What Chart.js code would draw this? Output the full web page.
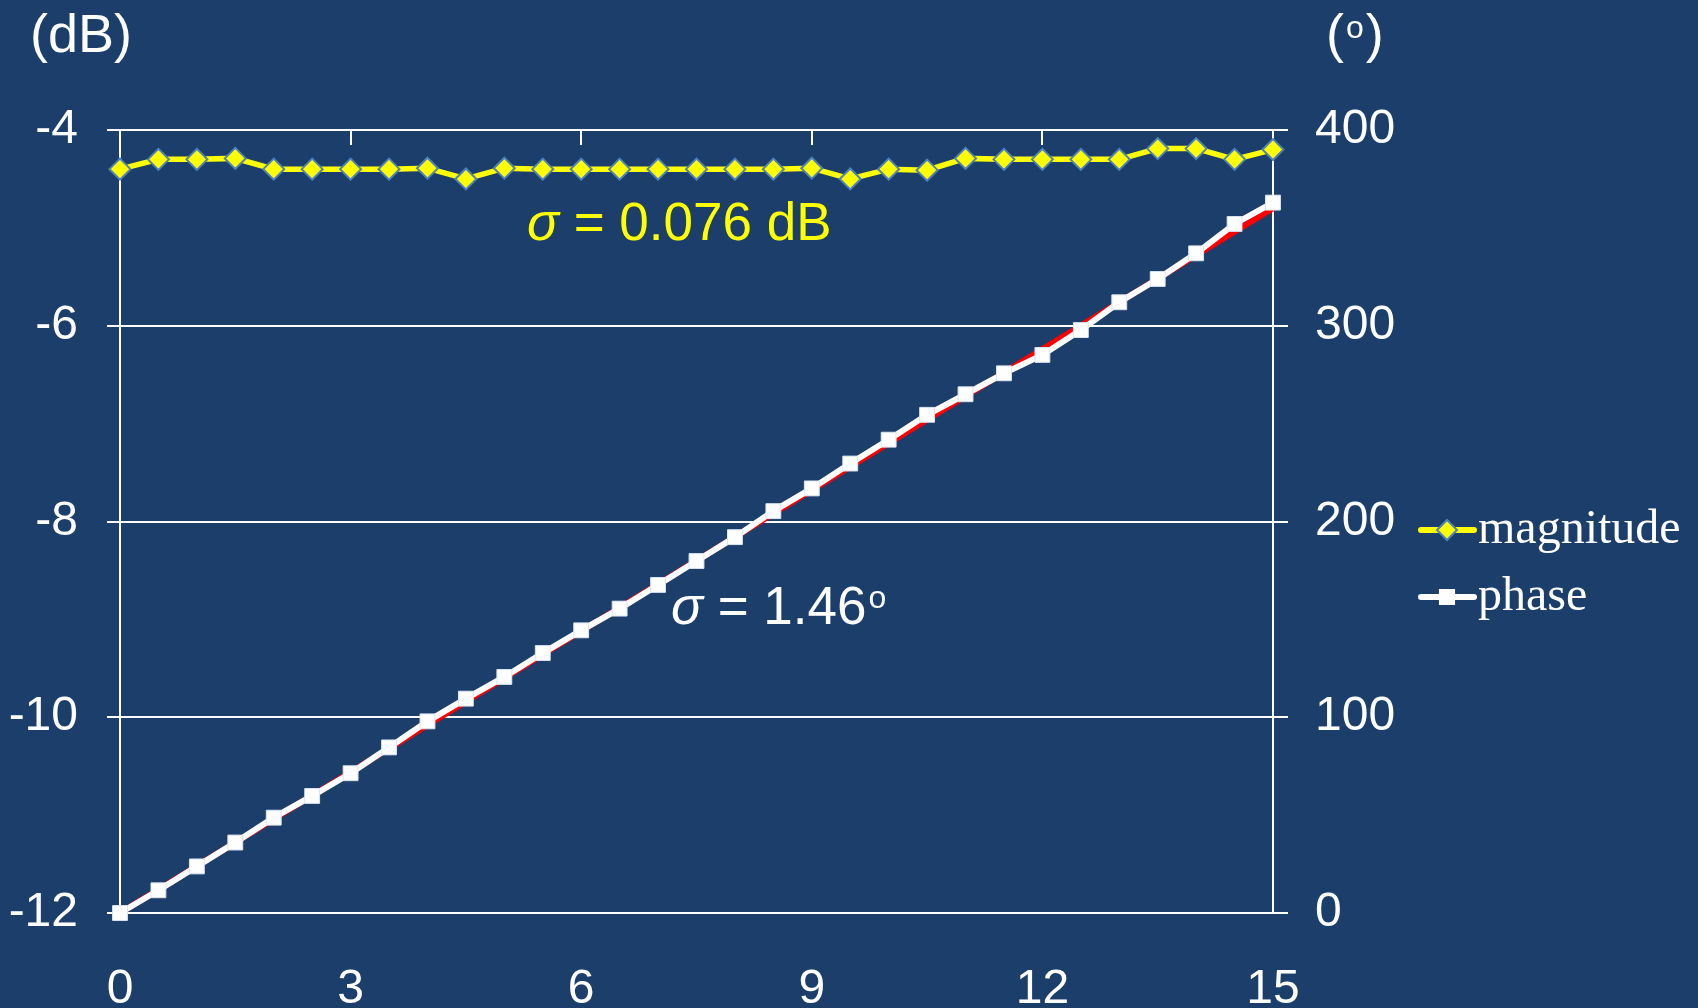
<!DOCTYPE html>
<html>
<head>
<meta charset="utf-8">
<script src="https://cdn.jsdelivr.net/npm/chart.js@4.4.0/dist/chart.umd.min.js"></script>
<style>
html, body { margin: 0; padding: 0; background: #1c3e6b; }
#wrap { width: 1698px; height: 1008px; }
</style>
</head>
<body>
<div id="wrap"><canvas id="grafica" width="1698" height="1008"></canvas></div>
<script>
// frequency points (x axis)
const freq = [0, 0.5, 1, 1.5, 2, 2.5, 3, 3.5, 4, 4.5, 5, 5.5, 6, 6.5, 7, 7.5,
              8, 8.5, 9, 9.5, 10, 10.5, 11, 11.5, 12, 12.5, 13, 13.5, 14, 14.5, 15];
// magnitude in dB (left axis)
const magnitude = [-4.40, -4.30, -4.30, -4.29, -4.40, -4.40, -4.40, -4.40, -4.39, -4.50,
                   -4.39, -4.40, -4.40, -4.40, -4.40, -4.40, -4.40, -4.40, -4.39, -4.50,
                   -4.40, -4.41, -4.29, -4.30, -4.30, -4.30, -4.30, -4.19, -4.19, -4.30, -4.20];
// phase in degrees (right axis)
const phase = [0, 11.6, 23.8, 36.0, 48.7, 59.8, 71.4, 84.6, 97.9, 109.5,
               120.6, 132.8, 144.4, 155.5, 167.6, 179.8, 192.0, 205.3, 216.9, 229.6,
               241.8, 254.5, 265.0, 275.7, 285.1, 297.8, 312.0, 323.9, 337.0, 352.0, 362.9];
// ideal phase line (red)
const fitFreq = [0, 15];
const fitPhase = [0, 360];
const xTopTicks = [3, 6, 9, 12];

const SANS = "'Liberation Sans', Arial, sans-serif";
const SERIF = "'Liberation Serif', 'Times New Roman', serif";

function pares(xs, ys) {
    return xs.map(function (x, i) { return { x: x, y: ys[i] }; });
}

// small tick marks pointing down from the top line, plus text
const extras = {
    id: 'extras',
    afterDatasetsDraw: function (chart) {
        const ctx = chart.ctx;
        const xs = chart.scales.x;
        const top = chart.chartArea.top;
        ctx.save();
        ctx.strokeStyle = '#ffffff';
        ctx.lineWidth = 2;
        xTopTicks.forEach(function (v) {
            const px = Math.round(xs.getPixelForValue(v));
            ctx.beginPath();
            ctx.moveTo(px, top);
            ctx.lineTo(px, top + 15);
            ctx.stroke();
        });
        ctx.restore();
    },
    afterDraw: function (chart) {
        const ctx = chart.ctx;
        ctx.save();
        ctx.textBaseline = 'middle';
        ctx.textAlign = 'left';

        // axis titles
        ctx.fillStyle = '#ffffff';
        ctx.font = '54px ' + SANS;
        ctx.fillText('(dB)', 30, 37);
        ctx.fillText('(', 1326, 37);
        let w = ctx.measureText('(').width;
        ctx.font = '32px ' + SANS;
        ctx.fillText('o', 1326 + w + 2, 29);
        let w2 = ctx.measureText('o').width;
        ctx.font = '54px ' + SANS;
        ctx.fillText(')', 1326 + w + w2 + 4, 37);

        // sigma annotations
        ctx.fillStyle = '#ffff00';
        ctx.font = 'italic 53px ' + SANS;
        ctx.fillText('\u03c3', 527, 225);
        let ws = ctx.measureText('\u03c3').width;
        ctx.font = '53px ' + SANS;
        ctx.fillText(' = 0.076 dB', 527 + ws, 225);

        ctx.fillStyle = '#ffffff';
        ctx.font = 'italic 53px ' + SANS;
        ctx.fillText('\u03c3', 671, 609);
        ws = ctx.measureText('\u03c3').width;
        ctx.font = '53px ' + SANS;
        ctx.fillText(' = 1.46', 671 + ws, 609);
        let wt = ctx.measureText(' = 1.46').width;
        ctx.font = '32px ' + SANS;
        ctx.fillText('o', 671 + ws + wt + 2, 599);

        // legend
        const items = [
            { label: 'magnitude', color: '#ffff00', style: 'rectRot', r: 10, border: '#4f81bd', y: 530 },
            { label: 'phase', color: '#ffffff', style: 'rect', r: 10, border: '#ffffff', y: 597 }
        ];
        items.forEach(function (it) {
            ctx.strokeStyle = it.color;
            ctx.lineWidth = 6;
            ctx.lineCap = 'round';
            ctx.beginPath();
            ctx.moveTo(1421, it.y);
            ctx.lineTo(1474, it.y);
            ctx.stroke();
            ctx.fillStyle = it.color;
            ctx.strokeStyle = it.border;
            ctx.lineWidth = 2;
            Chart.helpers.drawPoint(ctx, { pointStyle: it.style, radius: it.r, rotation: 0, borderWidth: 2 }, 1447, it.y);
            ctx.fillStyle = '#ffffff';
            ctx.font = '48px ' + SERIF;
            ctx.fillText(it.label, 1478, it.y);
        });
        ctx.restore();
    }
};

const ctx = document.getElementById('grafica').getContext('2d');
const grafica = new Chart(ctx, {
    type: 'line',
    data: {
        datasets: [{
            label: 'magnitude',
            data: pares(freq, magnitude),
            yAxisID: 'y',
            borderColor: '#ffff00',
            borderWidth: 5.5,
            pointStyle: 'rectRot',
            pointRadius: 10.5,
            pointBackgroundColor: '#ffff00',
            pointBorderColor: '#4f81bd',
            pointBorderWidth: 2,
            tension: 0,
            clip: false
        }, {
            label: 'phase',
            data: pares(freq, phase),
            yAxisID: 'y2',
            borderColor: '#ffffff',
            borderWidth: 6,
            pointStyle: 'rect',
            pointRadius: 10.5,
            pointBackgroundColor: '#ffffff',
            pointBorderColor: '#dbe5f1',
            pointBorderWidth: 1,
            tension: 0,
            clip: false
        }, {
            label: 'fit',
            data: pares(fitFreq, fitPhase),
            yAxisID: 'y2',
            borderColor: '#ff0000',
            borderWidth: 6,
            pointRadius: 0,
            tension: 0,
            clip: false
        }]
    },
    options: {
        responsive: false,
        animation: false,
        events: [],
        layout: { padding: { top: 130, right: 295, bottom: 0, left: 0 } },
        plugins: {
            legend: { display: false },
            tooltip: { enabled: false }
        },
        scales: {
            x: {
                type: 'linear',
                min: 0,
                max: 15,
                grid: { display: false },
                border: { display: false },
                ticks: {
                    stepSize: 3,
                    padding: 40,
                    color: '#ffffff',
                    font: { family: SANS, size: 48 }
                },
                afterFit: function (s) { s.height = 95; }
            },
            y: {
                position: 'left',
                min: -12,
                max: -4,
                grid: { color: '#ffffff', lineWidth: 2, tickLength: 13 },
                border: { display: true, color: '#ffffff', width: 2 },
                ticks: {
                    stepSize: 2,
                    padding: 29,
                    color: '#ffffff',
                    font: { family: SANS, size: 48 }
                },
                afterFit: function (s) { s.width = 120; }
            },
            y2: {
                position: 'right',
                min: 0,
                max: 400,
                grid: { drawOnChartArea: false, color: '#ffffff', lineWidth: 2, tickLength: 15 },
                border: { display: true, color: '#ffffff', width: 2 },
                ticks: {
                    stepSize: 100,
                    padding: 27,
                    color: '#ffffff',
                    font: { family: SANS, size: 48 }
                },
                afterFit: function (s) { s.width = 130; }
            }
        }
    },
    plugins: [extras]
});
</script>
</body>
</html>
